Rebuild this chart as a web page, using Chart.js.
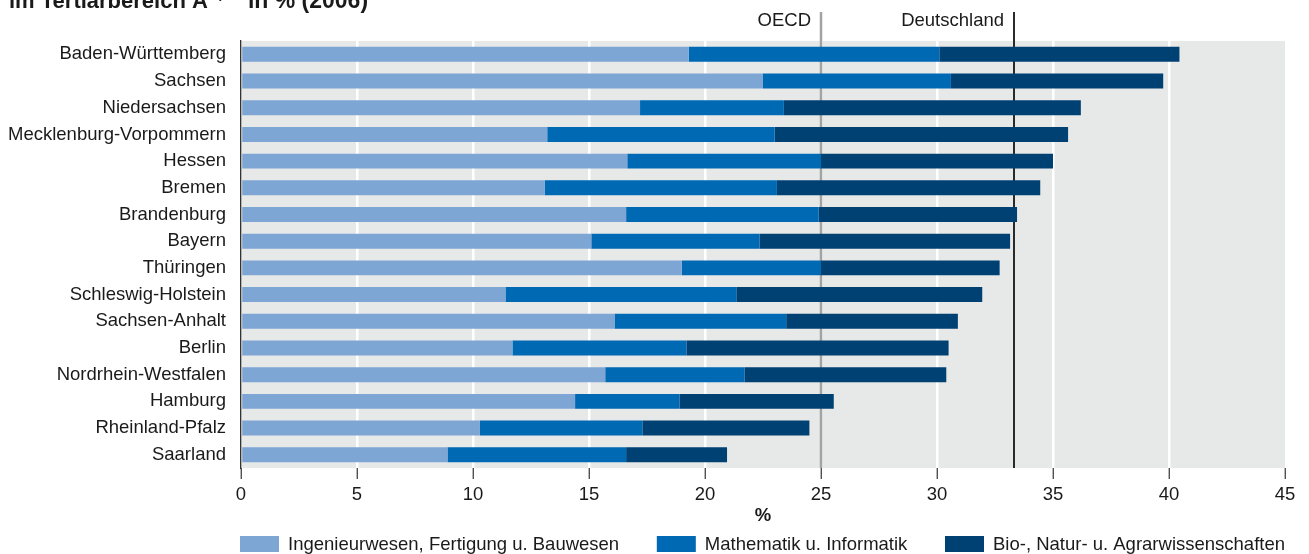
<!DOCTYPE html>
<html>
<head>
<meta charset="utf-8">
<script src="https://cdn.jsdelivr.net/npm/chart.js@4.4.1/dist/chart.umd.min.js"></script>
<style>
  html, body { margin: 0; padding: 0; background: #fff; }
</style>
</head>
<body>
<canvas id="chart" width="1309" height="554"></canvas>
<script>
// Länder, sortiert nach Gesamtanteil
const laender = [
    "Baden-Württemberg", "Sachsen", "Niedersachsen", "Mecklenburg-Vorpommern",
    "Hessen", "Bremen", "Brandenburg", "Bayern", "Thüringen", "Schleswig-Holstein",
    "Sachsen-Anhalt", "Berlin", "Nordrhein-Westfalen", "Hamburg", "Rheinland-Pfalz", "Saarland"
];

// Anteile in % (gestapelt)
const ingenieur = [19.3, 22.5, 17.2, 13.2, 16.65, 13.1, 16.6, 15.1, 19.0, 11.4, 16.1, 11.7, 15.7, 14.4, 10.3, 8.9];
const mathematik = [10.8, 8.1, 6.2, 9.8, 8.35, 10.0, 8.3, 7.25, 6.0, 9.95, 7.4, 7.5, 6.0, 4.5, 7.0, 7.7];
const bioNatur = [10.35, 9.15, 12.8, 12.65, 10.0, 11.35, 8.55, 10.8, 7.7, 10.6, 7.4, 11.3, 8.7, 6.65, 7.2, 4.35];

const seriesNames = [
    "Ingenieurwesen, Fertigung u. Bauwesen",
    "Mathematik u. Informatik",
    "Bio-, Natur- u. Agrarwissenschaften"
];
const seriesColors = ["#7ea6d5", "#0069b4", "#004174"];

const xMin = 0, xMax = 45, xStep = 5;
const oecdWert = 25;
const deutschlandWert = 33.3;

const titelText = ["im Tertiärbereich A", "1)", "in % (2006)"];

const FONT = "'Liberation Sans', Arial, Helvetica, sans-serif";
const FS = 18.5;
Chart.defaults.font.family = FONT;
Chart.defaults.font.size = FS;
Chart.defaults.color = "#1a1a1a";

const plotBackground = {
    id: "plotBackground",
    beforeDraw(chart) {
        const { ctx, chartArea: a } = chart;
        ctx.save();
        ctx.fillStyle = "#e7e8e8";
        ctx.fillRect(a.left, a.top, a.right - a.left, a.bottom - a.top);
        ctx.restore();
    }
};

const referenceLines = {
    id: "referenceLines",
    beforeDatasetsDraw(chart) {
        const { ctx, chartArea: a } = chart;
        const x = chart.scales.x;
        const lines = [
            { value: oecdWert, label: "OECD", color: "#a3a3a3", width: 2.5 },
            { value: deutschlandWert, label: "Deutschland", color: "#2a2a2a", width: 2 }
        ];
        ctx.save();
        lines.forEach(l => {
            const px = Math.round(x.getPixelForValue(l.value));
            ctx.strokeStyle = l.color;
            ctx.lineWidth = l.width;
            ctx.beginPath();
            ctx.moveTo(px, 12);
            ctx.lineTo(px, a.bottom);
            ctx.stroke();
            ctx.fillStyle = "#1a1a1a";
            ctx.font = FS + "px " + FONT;
            ctx.textAlign = "right";
            ctx.textBaseline = "middle";
            ctx.fillText(l.label, px - 10, 21);
        });
        ctx.restore();
    }
};

const topTitle = {
    id: "topTitle",
    afterDraw(chart) {
        const ctx = chart.ctx;
        ctx.save();
        ctx.fillStyle = "#1a1a1a";
        ctx.textBaseline = "alphabetic";
        ctx.textAlign = "left";
        ctx.font = "bold 22px " + FONT;
        let x = 9;
        ctx.fillText(titelText[0], x, 8);
        x += ctx.measureText(titelText[0]).width + 4;
        ctx.font = "bold 13px " + FONT;
        ctx.fillText(titelText[1], x, -2);
        x += 36;
        ctx.font = "bold 23px " + FONT;
        ctx.fillText(titelText[2], x, 8);
        ctx.restore();
    }
};

const bottomLegend = {
    id: "bottomLegend",
    afterDraw(chart) {
        const { ctx, chartArea: a } = chart;
        const boxW = 39, boxH = 16, gap = 9, y = 544;
        ctx.save();
        ctx.font = FS + "px " + FONT;
        const widths = chart.data.datasets.map(d => boxW + gap + ctx.measureText(d.label).width);
        const total = widths.reduce((s, w) => s + w, 0);
        const space = (a.right - a.left + 1 - total) / (widths.length - 1);
        let x = a.left - 1;
        chart.data.datasets.forEach((d, i) => {
            ctx.fillStyle = d.backgroundColor;
            ctx.fillRect(x, y - boxH / 2, boxW, boxH);
            ctx.fillStyle = "#1a1a1a";
            ctx.textAlign = "left";
            ctx.textBaseline = "middle";
            ctx.fillText(d.label, x + boxW + gap, y + 1);
            x += widths[i] + space;
        });
        ctx.restore();
    }
};

new Chart(document.getElementById("chart"), {
    type: "bar",
    data: {
        labels: laender,
        datasets: [ingenieur, mathematik, bioNatur].map((values, i) => ({
            label: seriesNames[i],
            data: values,
            backgroundColor: seriesColors[i],
            borderWidth: 0,
            categoryPercentage: 1,
            barPercentage: 0.56
        }))
    },
    options: {
        indexAxis: "y",
        responsive: false,
        animation: false,
        layout: { padding: { top: 41, right: 24, bottom: 23, left: 0 } },
        plugins: {
            legend: { display: false },
            tooltip: { enabled: false }
        },
        scales: {
            x: {
                stacked: true,
                min: xMin,
                max: xMax,
                ticks: { stepSize: xStep, padding: 5, color: "#1a1a1a" },
                grid: {
                    color: ctx => (ctx.tick && (ctx.tick.value === xMin || ctx.tick.value === xMax)) ? "rgba(0,0,0,0)" : "#ffffff",
                    lineWidth: 2.5,
                    drawTicks: true,
                    tickLength: 11,
                    tickColor: "#333333",
                    tickWidth: 1.2
                },
                border: { display: false },
                title: {
                    display: true,
                    text: "%",
                    font: { weight: "bold", size: FS },
                    padding: { top: -6.5, bottom: 4 }
                }
            },
            y: {
                stacked: true,
                grid: { display: false, drawTicks: false },
                border: { display: true, color: "#333333", width: 1.3 },
                ticks: { padding: 15, color: "#1a1a1a" },
                afterFit(scale) { scale.width = 241; }
            }
        }
    },
    plugins: [plotBackground, referenceLines, topTitle, bottomLegend]
});
</script>
</body>
</html>
